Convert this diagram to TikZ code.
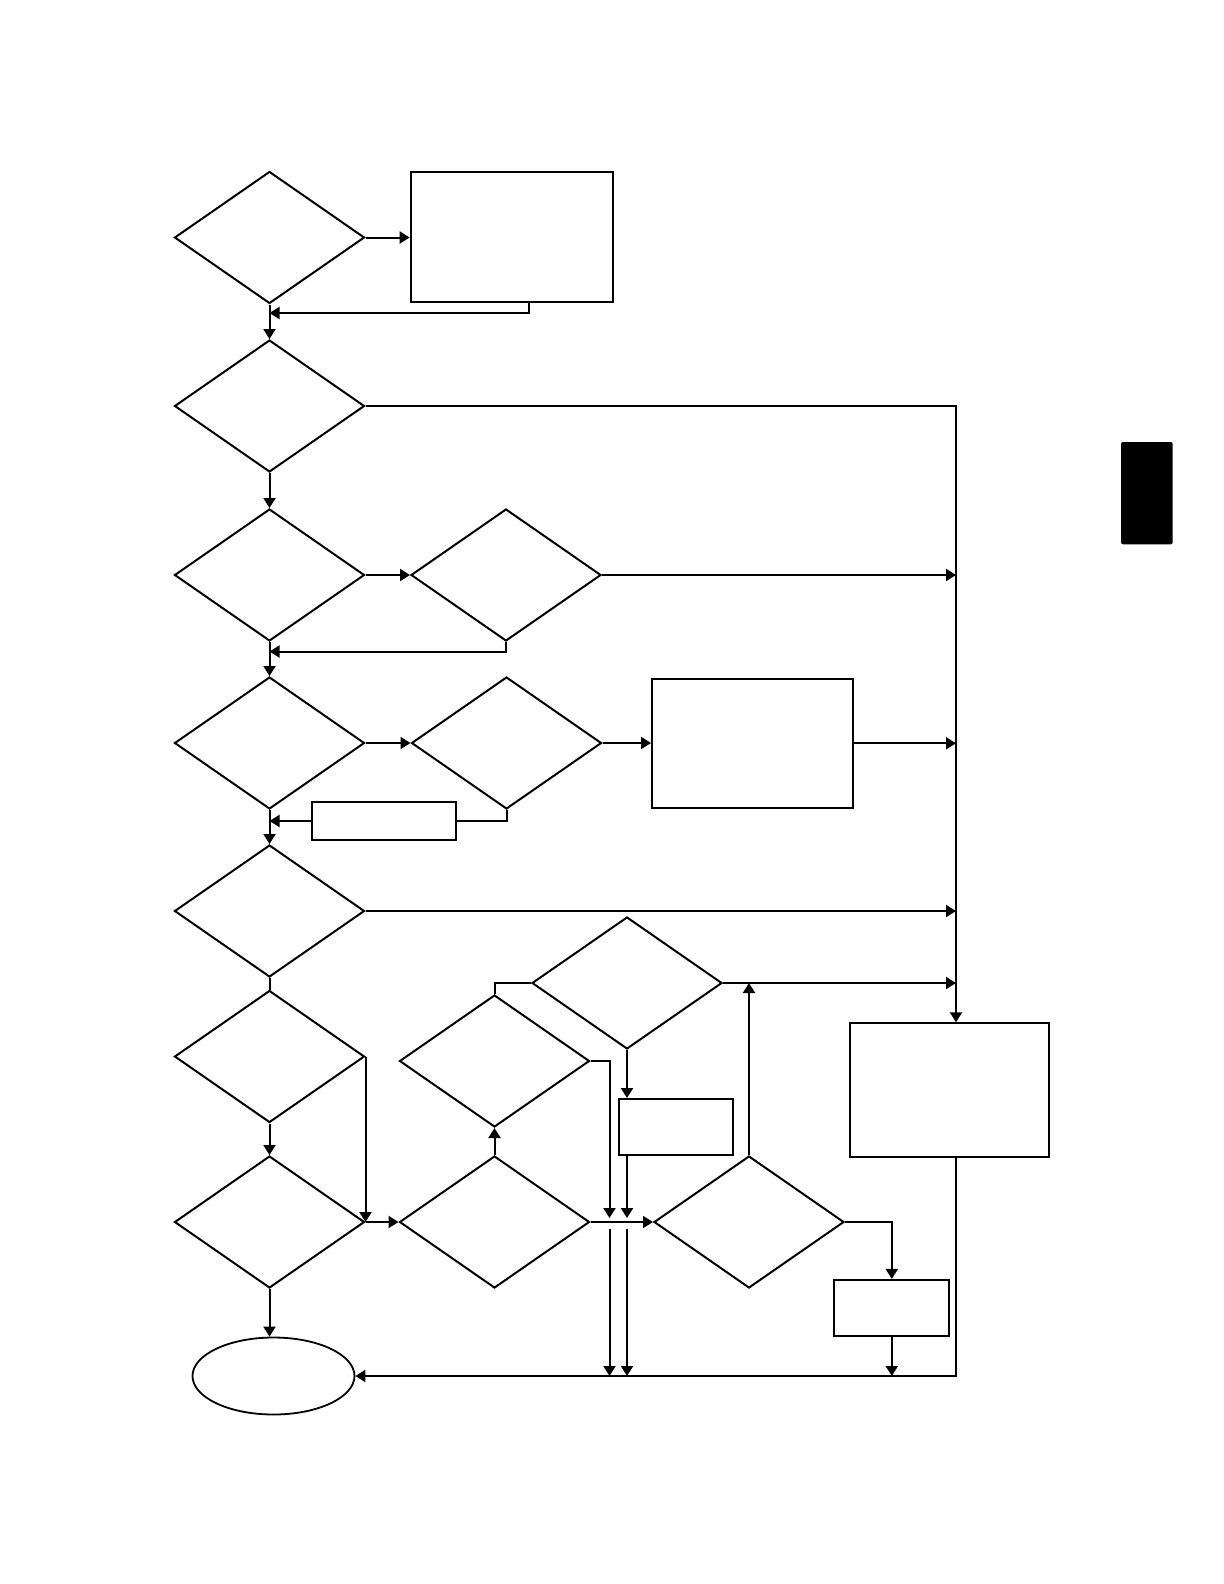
\documentclass[tikz,border=0pt]{standalone}
\usepackage{tikz}
\usetikzlibrary{arrows.meta,positioning,shapes.geometric}
\tikzset{
  dia/.style ={diamond,draw,line width=1pt,minimum width=95pt,minimum height=66pt,inner sep=0pt},
  blk/.style ={rectangle,draw,line width=1pt,inner sep=0pt},
  term/.style={ellipse,draw,line width=0.9pt,minimum width=81pt,minimum height=38.5pt,inner sep=0pt},
  wire/.style={line width=1pt},
  flow/.style={wire,-{Triangle[length=5pt,width=6pt]}},
  thinflow/.style={flow,line width=0.7pt},
}

\begin{document}
\begin{tikzpicture}[x=0.5pt,y=-0.5pt]
  \useasboundingbox (0,0) rectangle (1224,1584);
  % left column of decisions
  \node[dia] (d1) at (269.5,237.5) {};
  \node[dia] (d2) at (269.5,406) {};
  \node[dia] (d3) at (269.5,575) {};
  \node[dia] (d4) at (269.5,743) {};
  \node[dia] (d5) at (269.5,911) {};
  \node[dia] (d6) at (269.5,1056.5) {};
  \node[dia] (d7) at (269.5,1222) {};
  \node[term] (end) at (273.5,1376) {};
  % side branches
  \node[blk,minimum width=101.3pt,minimum height=65pt] (b1) at (512,237) {};
  \node[dia] (d3b) at (506,575) {};
  \node[dia] (d4b) at (506.5,743) {};
  \node[blk,minimum width=100.5pt,minimum height=64.7pt] (b4) at (752.5,743.3) {};
  \node[blk,minimum width=72pt,minimum height=18.7pt] (sb) at (384.3,821) {};
  % lower cluster
  \node[dia] (d8) at (494.5,1222) {};
  \node[dia] (d9) at (494.5,1061) {};
  \node[dia] (d10) at (627,983) {};
  \node[blk,minimum width=57.2pt,minimum height=28pt] (b10) at (676,1127) {};
  \node[dia] (d11) at (749,1222) {};
  \node[blk,minimum width=57.5pt,minimum height=27.9pt] (b11) at (891.8,1307.8) {};
  \node[blk,minimum width=99.5pt,minimum height=66.7pt] (big) at (949.5,1090) {};
  % helper points
  \coordinate (rail) at (956,0);
  \coordinate (j1) at (269.5,313);
  \coordinate (j3) at (269.5,651.5);
  \coordinate (k1) at (609.5,1218);
  \coordinate (k2) at (627,1218);
  \coordinate (m1) at (609.5,1229);
  \coordinate (m2) at (627,1229);
  \coordinate (n1) at (609.5,1376);
  \coordinate (n2) at (627,1376);
  % main flow
  \draw[flow] (d1.south) -- (d2.north);
  \draw[flow] (d2.south) -- (d3.north);
  \draw[flow] (d3.south) -- (d4.north);
  \draw[flow] (d4.south) -- (d5.north);
  \draw[wire] (d5.south) -- (d6.north);
  \draw[flow] (d6.south) -- (d7.north);
  \draw[flow] (d7.south) -- (d7.south |- end.north);
  \draw[flow] (d6.east) -- (d7.east);
  % branches off the column
  \draw[flow] (d1.east) -- (d1.east -| b1.west);
  \draw[flow] (528.7,0 |- b1.south) |- (j1);
  \draw[flow] (d3.east) -- (d3b.west);
  \draw[flow] (d3b.south) |- (j3);
  \draw[flow] (d4.east) -- (d4b.west);
  \draw[flow] (d4b.east) -- (d4b.east -| b4.west);
  \draw[wire] (d4b.south) |- (sb.east);
  \draw[flow] (sb.west) -- (sb.west -| d4.south);
  % right rail
  \draw[flow] (d2.east) -- (d2.east -| rail) -- (big.north -| rail);
  \foreach \n in {d3b,b4,d5,d10}
    \draw[flow] (\n.east) -- (\n.east -| rail);
  \draw[flow] (big.south -| rail) -- (rail |- end.east) -- (end.east);
  % lower cluster
  \draw[flow] (d7.east) -- (d8.west);
  \draw[flow] (d8.north) -- (d9.south);
  \draw[wire] (d9.north) |- (d10.west);
  \draw[flow] (d9.east) -| (k1);
  \draw[flow] (d10.south) -- (d10.south |- b10.north);
  \draw[flow] (d10.south |- b10.south) -- (k2);
  \draw[thinflow] (d8.east) -- (d11.west);
  \draw[flow] (m1) -- (n1);
  \draw[flow] (m2) -- (n2);
  \draw[flow] (d11.north) -- (d11.north |- d10.east);
  \draw[flow] (d11.east) -| (b11.north);
  \draw[flow] (b11.south) -- (b11.south |- end.east);
  % black tab
  \fill[black,rounded corners=1pt] (1121,442) rectangle (1172.7,544.3);
\end{tikzpicture}
\end{document}
